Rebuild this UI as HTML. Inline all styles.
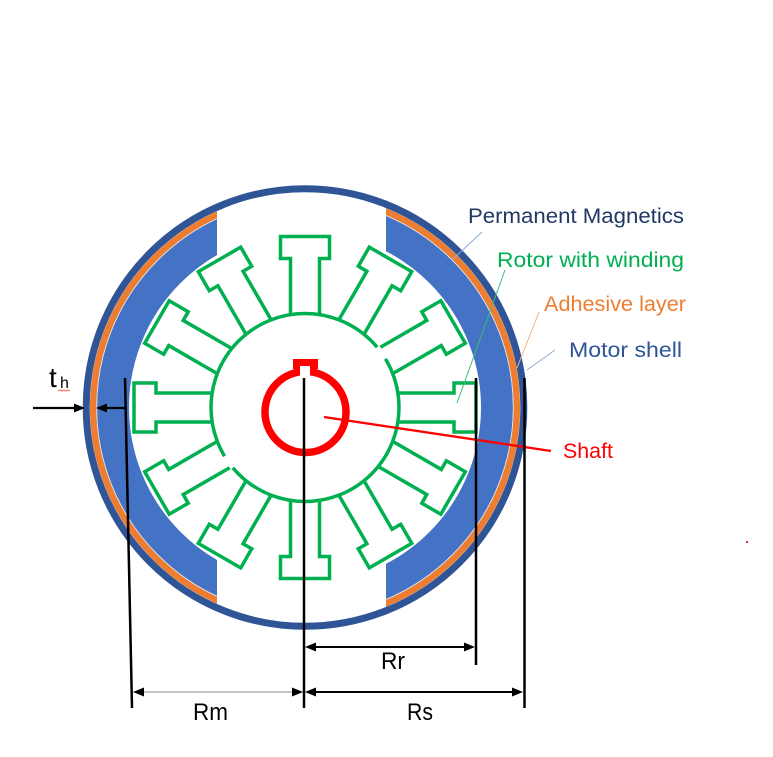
<!DOCTYPE html>
<html>
<head>
<meta charset="utf-8">
<style>
html,body{margin:0;padding:0;background:#fff;}
svg{display:block;}
text{font-family:"Liberation Sans",sans-serif;}
</style>
</head>
<body>
<svg width="773" height="757" viewBox="0 0 773 757" xmlns="http://www.w3.org/2000/svg">
<defs>
<clipPath id="cl"><rect x="0" y="0" width="217" height="757"/></clipPath>
<clipPath id="cr"><rect x="386" y="0" width="400" height="757"/></clipPath>
<g id="tooth">
<path d="M -14.5,-92.9 L -14.5,-149 L -24.5,-149 L -24.5,-171 L 24.5,-171 L 24.5,-149 L 14.5,-149 L 14.5,-92.9" fill="none" stroke="#00B050" stroke-width="3.5" stroke-linejoin="miter"/>
</g>
</defs>

<!-- motor shell -->
<circle cx="305" cy="407.5" r="218.8" fill="none" stroke="#2F5597" stroke-width="7"/>

<!-- magnets + adhesive -->
<g clip-path="url(#cl)">
<circle cx="305" cy="407.5" r="192" fill="none" stroke="#4472C4" stroke-width="32"/>
<circle cx="305" cy="407.5" r="211.8" fill="none" stroke="#ED7D31" stroke-width="6.6"/>
<circle cx="305" cy="407.5" r="208.3" fill="none" stroke="#E4EAF5" stroke-width="0.8"/>
</g>
<g clip-path="url(#cr)">
<circle cx="305" cy="407.5" r="192" fill="none" stroke="#4472C4" stroke-width="32"/>
<circle cx="305" cy="407.5" r="211.8" fill="none" stroke="#ED7D31" stroke-width="6.6"/>
<circle cx="305" cy="407.5" r="208.3" fill="none" stroke="#E4EAF5" stroke-width="0.8"/>
</g>

<!-- rotor yoke -->
<circle cx="305" cy="407.5" r="94" fill="none" stroke="#00B050" stroke-width="3.5"/>
<!-- rotor teeth -->
<g transform="translate(305,407.5)">
<use href="#tooth" transform="rotate(0)"/>
<use href="#tooth" transform="rotate(30)"/>
<use href="#tooth" transform="rotate(60)"/>
<use href="#tooth" transform="rotate(90)"/>
<use href="#tooth" transform="rotate(120)"/>
<use href="#tooth" transform="rotate(150)"/>
<use href="#tooth" transform="rotate(180)"/>
<use href="#tooth" transform="rotate(210)"/>
<use href="#tooth" transform="rotate(240)"/>
<use href="#tooth" transform="rotate(270)"/>
<use href="#tooth" transform="rotate(300)"/>
<use href="#tooth" transform="rotate(330)"/>
<path d="M 76.2,-55.1 A 94 94 0 0 1 83.6,-43" fill="none" stroke="#fff" stroke-width="5" transform="rotate(-4)"/>
<path d="M -76.2,55.1 A 94 94 0 0 1 -83.6,43" fill="none" stroke="#fff" stroke-width="5" transform="rotate(-4)"/>
</g>

<!-- shaft -->
<circle cx="305.5" cy="412" r="40.5" fill="none" stroke="#FF0000" stroke-width="7.5"/>
<rect x="293" y="359" width="25" height="10" fill="#FF0000"/>
<rect x="300" y="366" width="10" height="10" fill="#fff"/>

<!-- shaft leader -->
<line x1="324" y1="417" x2="551" y2="451" stroke="#FF0000" stroke-width="2.4"/>

<!-- leader lines -->
<line x1="482" y1="232" x2="452" y2="260" stroke="#8FAADC" stroke-width="1"/>
<line x1="505" y1="270" x2="457" y2="403" stroke="#3DBE72" stroke-width="1"/>
<line x1="539" y1="312" x2="517" y2="368" stroke="#F4B183" stroke-width="1"/>
<line x1="555" y1="350" x2="527" y2="370" stroke="#8FAADC" stroke-width="1"/>

<!-- labels -->
<text x="468" y="223" font-size="21" fill="#203864" textLength="216" lengthAdjust="spacingAndGlyphs">Permanent Magnetics</text>
<text x="497" y="267" font-size="21" fill="#00B050" textLength="187" lengthAdjust="spacingAndGlyphs">Rotor with winding</text>
<text x="544" y="311" font-size="21" fill="#ED7D31" textLength="142" lengthAdjust="spacingAndGlyphs">Adhesive layer</text>
<text x="569" y="357" font-size="21" fill="#2F5597" textLength="113" lengthAdjust="spacingAndGlyphs">Motor shell</text>
<text x="563" y="458" font-size="21" fill="#FF0000" textLength="50" lengthAdjust="spacingAndGlyphs">Shaft</text>

<!-- dimension vertical lines -->
<line x1="125" y1="378" x2="132" y2="708" stroke="#000" stroke-width="2.5"/>
<line x1="304" y1="378" x2="304" y2="708" stroke="#000" stroke-width="2.5"/>
<line x1="476" y1="378" x2="476" y2="665" stroke="#000" stroke-width="2.5"/>
<line x1="524.5" y1="378" x2="524.5" y2="708" stroke="#000" stroke-width="2.5"/>

<!-- Rr -->
<line x1="312" y1="647" x2="468" y2="647" stroke="#000" stroke-width="2"/>
<polygon points="305,647 316,642.5 316,651.5" fill="#000"/>
<polygon points="475,647 464,642.5 464,651.5" fill="#000"/>
<text x="381" y="669" font-size="24" fill="#000" textLength="24" lengthAdjust="spacingAndGlyphs">Rr</text>

<!-- Rm -->
<line x1="140" y1="692" x2="296" y2="692" stroke="#A6A6A6" stroke-width="1.3"/>
<polygon points="133,692 144,687.5 144,696.5" fill="#000"/>
<polygon points="303,692 292,687.5 292,696.5" fill="#000"/>
<text x="193" y="720" font-size="24" fill="#000" textLength="35" lengthAdjust="spacingAndGlyphs">Rm</text>

<!-- Rs -->
<line x1="312" y1="692" x2="517" y2="692" stroke="#000" stroke-width="2"/>
<polygon points="305,692 316,687.5 316,696.5" fill="#000"/>
<polygon points="523,692 512,687.5 512,696.5" fill="#000"/>
<text x="407" y="720" font-size="24" fill="#000" textLength="26" lengthAdjust="spacingAndGlyphs">Rs</text>

<!-- th -->
<line x1="33" y1="408" x2="76" y2="408" stroke="#000" stroke-width="2.2"/>
<polygon points="85,408 74,403.5 74,412.5" fill="#000"/>
<line x1="104" y1="408" x2="125" y2="408" stroke="#000" stroke-width="2.2"/>
<polygon points="96,408 107,403.5 107,412.5" fill="#000"/>
<text x="49" y="387" font-size="28" fill="#000">t</text>
<text x="60" y="388" font-size="16" fill="#000">h</text>
<polyline points="58,391 60,390 62,391 64,390 66,391 68,390 70,391" fill="none" stroke="#FF4040" stroke-width="0.8"/>

<!-- stray red dot -->
<rect x="746" y="541" width="2" height="2" fill="#E03030"/>
</svg>
</body>
</html>
